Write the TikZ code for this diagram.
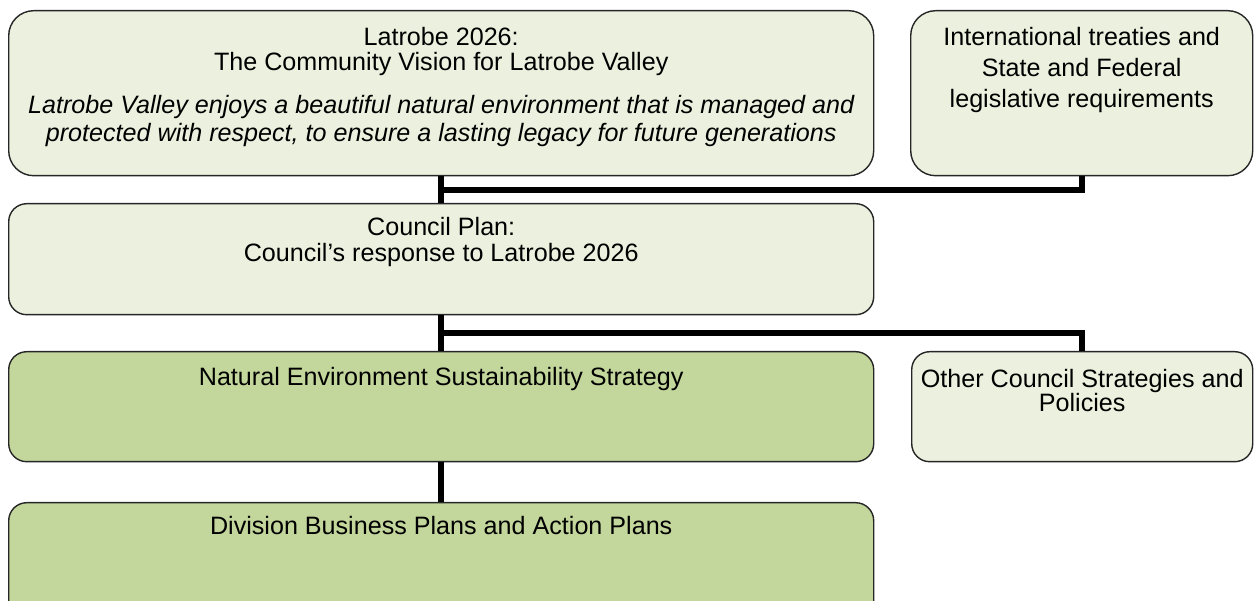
\documentclass[tikz,border=0pt]{standalone}
\usepackage{fontspec}
\setmainfont{Liberation Sans}
\usepackage{xcolor}
\usetikzlibrary{calc}
\definecolor{paleolive}{HTML}{EBF1DE}
\definecolor{olive}{HTML}{C3D69B}
\begin{document}
\begin{tikzpicture}%%strategy context

        \useasboundingbox (0,0) rectangle (25.08,-12.02);
        \tikzstyle{box}  = [rectangle, draw=black!85, line width=0.8pt, fill=paleolive, inner sep=0pt, anchor=north west]
        \tikzstyle{boxtext} = [anchor=north, inner sep=0pt, align=center, font=\fontsize{14.3}{14.2}\selectfont]
        \tikzstyle{link} = [line width=3.4pt, black]

        % boxes
        \node [box, rounded corners=0.5cm, minimum width=17.3cm, minimum height=3.3cm](vision) at (0.16,-0.2) {};
        \node [box, rounded corners=0.5cm, minimum width=6.84cm, minimum height=3.3cm](laws) at (18.2,-0.2) {};
        \node [box, rounded corners=0.36cm, minimum width=17.3cm, minimum height=2.22cm](plan) at (0.16,-4.06) {};
        \node [box, rounded corners=0.36cm, fill=olive, minimum width=17.3cm, minimum height=2.2cm](ness) at (0.16,-7.02) {};
        \node [box, rounded corners=0.36cm, minimum width=6.82cm, minimum height=2.2cm](other) at (18.22,-7.02) {};
        \node [box, rounded corners=0.36cm, fill=olive, minimum width=17.3cm, minimum height=2.6cm](division) at (0.16,-10.04) {};

        % texts
        \node [boxtext](visiontitle) at ($(vision.north)+(0,-0.34)$) {Latrobe 2026:\\The Community Vision for Latrobe Valley};
        \node [boxtext, font=\fontsize{14.3}{15.9}\selectfont\itshape](visiontext) at ($(vision.north)+(0,-1.7)$)
                {Latrobe Valley enjoys a beautiful natural environment that is managed and\\protected with respect, to ensure a lasting legacy for future generations};
        \node [boxtext, font=\fontsize{14.3}{17.6}\selectfont](lawstext) at ($(laws.north)+(0,-0.34)$) {International treaties and\\State and Federal\\legislative requirements};
        \node [boxtext, font=\fontsize{14.3}{14.8}\selectfont](plantext) at ($(plan.north)+(0,-0.28)$) {Council Plan:\\Council’s response to Latrobe 2026};
        \node [boxtext](nesstext) at ($(ness.north)+(0,-0.32)$) {Natural Environment Sustainability Strategy};
        \node [boxtext, font=\fontsize{14.3}{13.6}\selectfont](othertext) at ($(other.north)+(0,-0.36)$) {Other Council Strategies and\\Policies};
        \node [boxtext](divisiontext) at ($(division.north)+(0,-0.28)$) {Division Business Plans and Action Plans};

        % connectors
        \draw [link] (vision.south) -- (plan.north);
        \draw [link] ($(vision.south)!0.5!(plan.north)$) -| (laws.south);
        \draw [link] (plan.south) -- (ness.north);
        \draw [link] ($(plan.south)!0.5!(ness.north)$) -| (other.north);
        \draw [link] (ness.south) -- (division.north);
\end{tikzpicture}
\end{document}
